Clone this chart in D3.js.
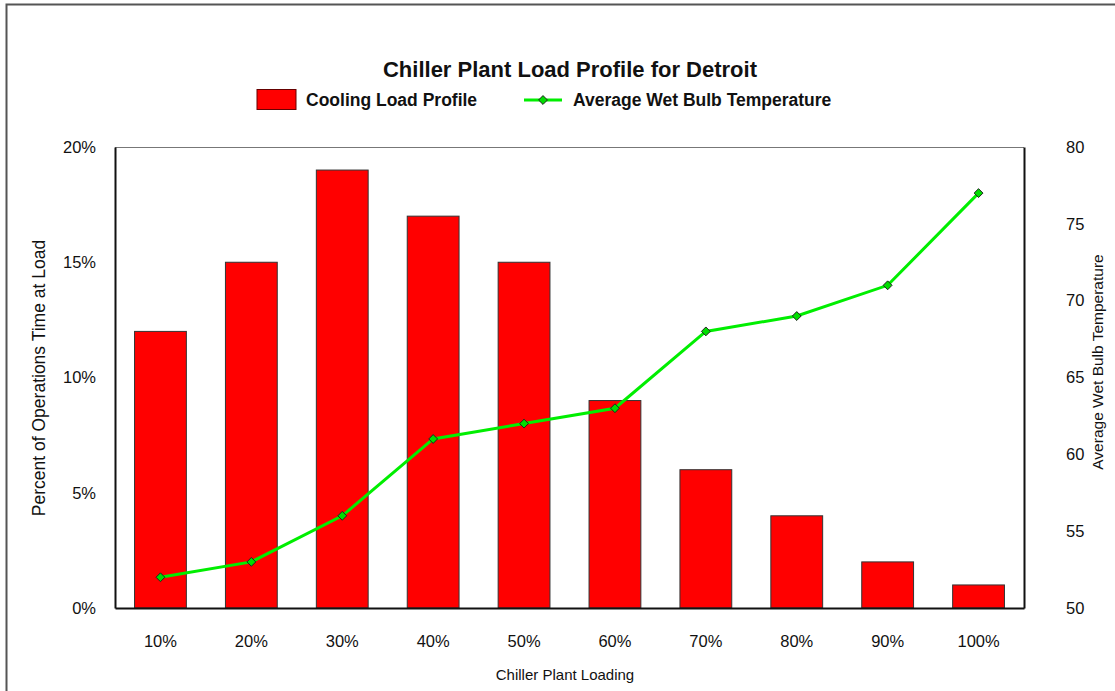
<!DOCTYPE html>
<html><head><meta charset="utf-8">
<script src="https://cdn.jsdelivr.net/npm/d3@7"></script>
<style>body{margin:0;background:#fff}svg{display:block;font-family:"Liberation Sans",Arial,sans-serif}</style>
</head><body><svg id="c" width="1115" height="691"></svg>
<script>
const categories = ["10%","20%","30%","40%","50%","60%","70%","80%","90%","100%"];
const loadProfile = [12,15,19,17,15,9,6,4,2,1];
const wetBulb = [52,53,56,61,62,63,68,69,71,77];
const leftTicks = [0,5,10,15,20];
const rightTicks = [50,55,60,65,70,75,80];

const svg = d3.select("#c");
const m = {l:115, r:1024, t:147, b:608};
svg.append("rect").attr("x",6.5).attr("y",4.5).attr("width",1200).attr("height",800)
  .attr("fill","none").attr("stroke","#555").attr("stroke-width",2);

const x = d3.scaleBand().domain(categories).range([m.l,m.r]).paddingInner(0.43).paddingOuter(0.215);
const yL = d3.scaleLinear().domain([0,20]).range([m.b,m.t]);
const yR = d3.scaleLinear().domain([50,80]).range([m.b,m.t]);

svg.append("line").attr("x1",m.l).attr("x2",m.r).attr("y1",m.t+0.5).attr("y2",m.t+0.5).attr("stroke","#777").attr("stroke-width",1);

svg.selectAll(".bar").data(loadProfile).join("rect")
  .attr("x",(d,i)=>x(categories[i])).attr("width",x.bandwidth())
  .attr("y",d=>yL(d)).attr("height",d=>yL(0)-yL(d))
  .attr("fill","#ff0000").attr("stroke","#333").attr("stroke-width",1);

const axL = d3.axisLeft(yL).tickValues(leftTicks).tickFormat(d=>d+"%").tickSize(0).tickPadding(19);
const gL = svg.append("g").attr("transform",`translate(${m.l},0)`).call(axL);
const axR = d3.axisRight(yR).tickValues(rightTicks).tickSize(0).tickPadding(42);
const gR = svg.append("g").attr("transform",`translate(${m.r},0)`).call(axR);
const axB = d3.axisBottom(x).tickSize(0).tickPadding(27);
const gB = svg.append("g").attr("transform",`translate(0,${m.b})`).call(axB);
[gL,gR,gB].forEach(g=>{
  g.selectAll("text").attr("font-size",16.5).attr("fill","#111").attr("font-family","Liberation Sans, Arial, sans-serif");
  g.select(".domain").attr("stroke","#111").attr("stroke-width",2);
});

const line = d3.line().x((d,i)=>x(categories[i])+x.bandwidth()/2).y(d=>yR(d));
svg.append("path").datum(wetBulb).attr("d",line).attr("fill","none").attr("stroke","#00ee00").attr("stroke-width",3);
const diamond = d3.symbol().type(d3.symbolDiamond2).size(50);
svg.selectAll(".pt").data(wetBulb).join("path")
  .attr("transform",(d,i)=>`translate(${x(categories[i])+x.bandwidth()/2},${yR(d)})`)
  .attr("d",diamond).attr("fill","#00dd00").attr("stroke","#222").attr("stroke-width",1);

svg.append("text").attr("x",570).attr("y",77).attr("text-anchor","middle")
  .attr("font-size",22).attr("font-weight","bold").attr("fill","#111").text("Chiller Plant Load Profile for Detroit");

svg.append("rect").attr("x",257).attr("y",89.5).attr("width",39).attr("height",20)
  .attr("fill","#ff0000").attr("stroke","#600").attr("stroke-width",1);
svg.append("text").attr("x",306).attr("y",106).attr("font-size",17.5).attr("font-weight","bold").attr("fill","#111").text("Cooling Load Profile");
svg.append("line").attr("x1",524).attr("x2",562).attr("y1",100).attr("y2",100).attr("stroke","#00ee00").attr("stroke-width",3);
svg.append("path").attr("transform","translate(543,100)").attr("d",diamond).attr("fill","#00dd00").attr("stroke","#222");
svg.append("text").attr("x",573).attr("y",106).attr("font-size",17.5).attr("font-weight","bold").attr("fill","#111").text("Average Wet Bulb Temperature");

svg.append("text").attr("x",565).attr("y",680).attr("text-anchor","middle").attr("font-size",15).attr("fill","#111").text("Chiller Plant Loading");
svg.append("text").attr("transform","translate(45,378) rotate(-90)").attr("text-anchor","middle").attr("font-size",17.5).attr("fill","#111").text("Percent of Operations Time at Load");
svg.append("text").attr("transform","translate(1103,362) rotate(-90)").attr("text-anchor","middle").attr("font-size",15.5).attr("fill","#111").text("Average Wet Bulb Temperature");
</script></body></html>
